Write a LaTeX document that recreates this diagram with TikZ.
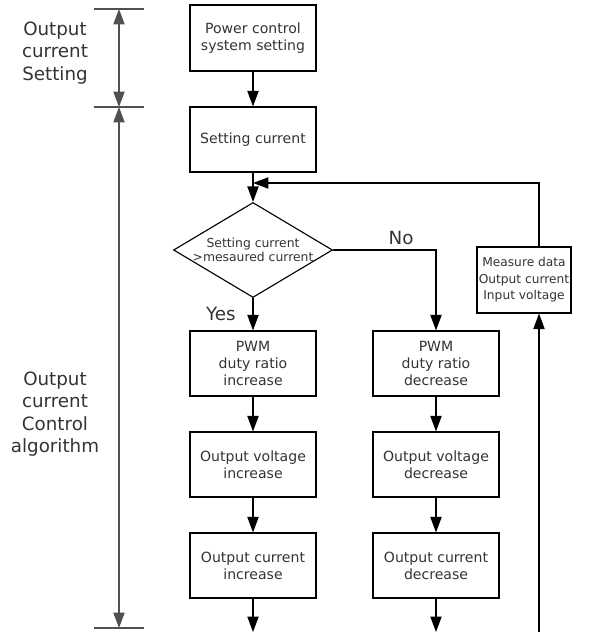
\documentclass[tikz,border=0pt]{standalone}
\usepackage{fontspec}
\setmainfont{DejaVu Sans}
\usetikzlibrary{positioning,shapes.geometric,arrows.meta,calc}
\definecolor{inkgray}{HTML}{333333}
\definecolor{dimgray}{HTML}{505050}

\begin{document}
\begin{tikzpicture}[
    box/.style={draw=black, line width=0.8pt, minimum width=3.15cm, minimum height=1.625cm,
      inner sep=0pt, align=center, text=inkgray, font=\fontsize{10}{12}\selectfont},
    flow/.style={draw=black, line width=0.8pt, -{Triangle[width=8pt,length=11pt]}},
    dimline/.style={draw=dimgray, line width=0.8pt},
    sidelabel/.style={align=center, inner sep=0pt, text=inkgray, font=\fontsize{13}{16}\selectfont},
    answer/.style={inner sep=0pt, text=inkgray, font=\fontsize{13}{16}\selectfont}
  ]
      \useasboundingbox (0,0) rectangle (15.125,-15.8);

      % left side: what each part of the chart does
      \node[sidelabel] (lblset) at (1.375,-1.325) {Output\\current\\Setting};
      \node[sidelabel] (lblalg) at (1.375,-10.35) {Output\\current\\Control\\algorithm};

      \coordinate (tk1) at (2.975,-0.225);
      \coordinate (tk2) at (2.975,-2.675);
      \coordinate (tk3) at (2.975,-15.7);
      \foreach \t in {tk1,tk2,tk3}
        \draw[dimline] ([xshift=-0.625cm]\t) -- ([xshift=0.625cm]\t);
      \draw[dimline, {Triangle[width=8pt,length=11pt]}-{Triangle[width=8pt,length=11pt]}] (tk1) -- (tk2);
      \draw[dimline, {Triangle[width=8pt,length=11pt]}-{Triangle[width=8pt,length=11pt]}] (tk2) -- (tk3);

      % main column
      \node[box, minimum height=1.65cm] (pcs) at (6.325,-0.95) {Power control\\system setting};
      \node[box] (setc) at (6.325,-3.4875) {Setting current};
      \node[draw=black, line width=0.8pt, diamond, aspect=1.674, minimum width=3.975cm,
        minimum height=2.375cm, inner sep=0pt] (cmp) at (6.325,-6.25) {};
      \node[align=center, inner sep=0pt, text=inkgray, font=\fontsize{8.8}{10.5}\selectfont]
        (cmptext) at (cmp.center) {Setting current\\>mesaured current};

      \node[box] (pwmi) at (6.325,-9.0875) {PWM\\duty ratio\\increase};
      \node[box] (voli) at (6.325,-11.6125) {Output voltage\\increase};
      \node[box] (curi) at (6.325,-14.1375) {Output current\\increase};

      \node[box] (pwmd) at (10.9,-9.0875) {PWM\\duty ratio\\decrease};
      \node[box] (vold) at (10.9,-11.6125) {Output voltage\\decrease};
      \node[box] (curd) at (10.9,-14.1375) {Output current\\decrease};

      \node[box, minimum width=2.35cm, minimum height=1.65cm, font=\fontsize{8.7}{11.8}\selectfont]
        (meas) at (13.1,-7.0) {Measure data\\Output current\\Input voltage};

      \coordinate (join) at (6.325,-4.575);
      \coordinate (outi) at (6.325,-15.8);
      \coordinate (outd) at (10.9,-15.8);
      \coordinate (fbx) at (13.475,-15.8);

      % connectors
      \draw[flow] (pcs) -- (setc);
      \draw[flow] (setc) -- (cmp);
      \draw[flow] (cmp) -- node[answer, midway, left=0.42cm] (yes) {Yes} (pwmi);
      \draw[flow] (cmp) -| node[answer, pos=0.33, above=0.12cm] (no) {No} (pwmd);
      \draw[flow] (pwmi) -- (voli);
      \draw[flow] (voli) -- (curi);
      \draw[flow] (curi) -- (outi);
      \draw[flow] (pwmd) -- (vold);
      \draw[flow] (vold) -- (curd);
      \draw[flow] (curd) -- (outd);
      \draw[flow] (fbx) -- (fbx |- meas.south);
      \draw[flow] (fbx |- meas.north) |- (join);
\end{tikzpicture}
\end{document}
